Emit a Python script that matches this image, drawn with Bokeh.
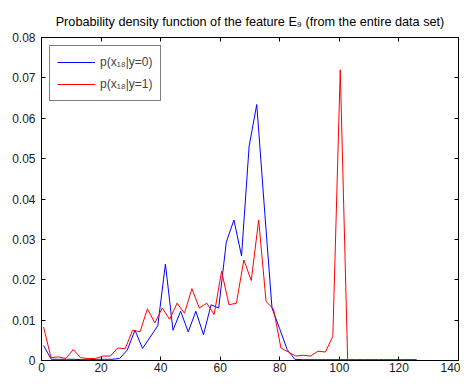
from bokeh.plotting import figure
from bokeh.models import FixedTicker, LinearAxis, Legend, LegendItem, Range1d
from bokeh.embed import file_html
from bokeh.resources import INLINE

# ---- data ----
x_blue = [0.70, 3.26, 5.81, 8.37, 10.92, 13.48, 16.04, 18.59, 21.15, 23.70,
          26.26, 28.82, 31.37, 33.93, 36.48, 39.04, 41.60, 44.15, 46.71, 49.26,
          51.82, 54.38, 56.93, 59.49, 62.04, 64.60, 67.16, 69.71, 72.27, 74.82,
          77.38, 79.94, 82.49, 85.05, 87.60, 90.16, 92.72, 95.27, 97.83, 100.38,
          102.94, 105.50, 108.05, 110.61, 113.16, 115.72, 118.28, 120.83, 123.39, 125.94]
p_blue = [0.0037, 0.0003, 0.0003, 0.0003, 0.0003, 0.0002, 0.0002, 0.0003, 0.0003, 0.0003,
          0.0005, 0.0026, 0.0075, 0.0030, 0.0058, 0.0086, 0.0239, 0.0075, 0.0122, 0.0071,
          0.0122, 0.0064, 0.0138, 0.0130, 0.0293, 0.0348, 0.0259, 0.0531, 0.0634, 0.0380,
          0.0130, 0.0079, 0.0027, 0.0003, 0.0002, 0.0002, 0.0002, 0.0002, 0.0002, 0.0002,
          0.0002, 0.0002, 0.0002, 0.0002, 0.0002, 0.0002, 0.0002, 0.0002, 0.0002, 0.0002]

x_red = [0.70, 3.19, 5.68, 8.17, 10.66, 13.15, 15.64, 18.13, 20.62, 23.11,
         25.60, 28.09, 30.58, 33.07, 35.56, 38.05, 40.54, 43.03, 45.52, 48.01,
         50.50, 52.99, 55.48, 57.97, 60.46, 62.95, 65.44, 67.93, 70.42, 72.91,
         75.40, 77.89, 80.38, 82.87, 85.36, 87.85, 90.34, 92.83, 95.32, 97.81,
         100.30, 102.79, 105.28, 107.77, 110.26, 112.75, 115.24, 117.73, 120.22, 122.71]
p_red = [0.0083, 0.0007, 0.0009, 0.0005, 0.0027, 0.0007, 0.0005, 0.0005, 0.0011, 0.0011,
         0.0031, 0.0029, 0.0075, 0.0071, 0.0128, 0.0093, 0.0130, 0.0102, 0.0142, 0.0117,
         0.0178, 0.0130, 0.0142, 0.0114, 0.0221, 0.0138, 0.0142, 0.0249, 0.0198, 0.0348,
         0.0146, 0.0128, 0.0031, 0.0021, 0.0011, 0.0013, 0.0011, 0.0023, 0.0021, 0.0060,
         0.0720, 0.0, 0.0, 0.0, 0.0, 0.0, 0.0, 0.0, 0.0, 0.0]

x_ticks = [0, 20, 40, 60, 80, 100, 120, 140]
y_ticks = [0, 0.01, 0.02, 0.03, 0.04, 0.05, 0.06, 0.07, 0.08]
y_tick_labels = ["0", "0.01", "0.02", "0.03", "0.04", "0.05", "0.06", "0.07", "0.08"]

title_text = "Probability density function of the feature E\u2089 (from the entire data set)"
legend_labels = ["p(x\u2081\u2088|y=0)", "p(x\u2081\u2088|y=1)"]
line_colors = ["#0000ff", "#ff0000"]

FONT = "Liberation Sans"

p = figure(width=460, height=374, output_backend="svg", toolbar_location=None,
           x_range=Range1d(0, 140), y_range=Range1d(0, 0.08),
           x_axis_type=None, y_axis_type=None,
           min_border_left=41, min_border_right=2, min_border_top=37, min_border_bottom=14,
           background_fill_color="white", border_fill_color="white")

p.title.text = title_text
p.title.align = "center"
p.title.text_font = FONT
p.title.text_font_style = "normal"
p.title.text_font_size = "12.7px"
p.title.text_color = "#000000"
p.title.standoff = 17

def style_axis(ax, ticks, show_labels):
    ax.ticker = FixedTicker(ticks=ticks)
    ax.major_tick_in = 4
    ax.major_tick_out = 0
    ax.minor_tick_line_color = None
    ax.major_tick_line_color = "black"
    ax.axis_line_color = "black"
    ax.major_label_text_font = FONT
    if show_labels:
        ax.major_label_text_font_size = "12px"
        ax.major_label_text_color = "#1a1a1a"
    else:
        ax.major_label_text_font_size = "0px"
        ax.major_label_text_color = None
        ax.major_label_standoff = 0

xb = LinearAxis()
style_axis(xb, x_ticks, True)
xb.major_label_standoff = 2
p.add_layout(xb, "below")

yl = LinearAxis()
style_axis(yl, y_ticks, True)
yl.major_label_standoff = 6
yl.major_label_overrides = {t: s for t, s in zip(y_ticks, y_tick_labels)}
p.add_layout(yl, "left")

xt = LinearAxis()
style_axis(xt, x_ticks, False)
p.add_layout(xt, "above")

yr = LinearAxis()
style_axis(yr, y_ticks, False)
p.add_layout(yr, "right")

p.xgrid.visible = False
p.ygrid.visible = False
p.outline_line_color = "black"
p.outline_line_alpha = 1.0

r0 = p.line(x_blue, p_blue, line_color=line_colors[0], line_width=1, line_alpha=1.0)
r1 = p.line(x_red, p_red, line_color=line_colors[1], line_width=1, line_alpha=1.0)

legend = Legend(items=[LegendItem(label=legend_labels[0], renderers=[r0]),
                       LegendItem(label=legend_labels[1], renderers=[r1])],
                location="top_left", margin=8, padding=7, spacing=4,
                glyph_width=38, glyph_height=18, label_height=18, label_standoff=5,
                border_line_color="black", border_line_width=1,
                label_text_font=FONT, label_text_font_size="12px",
                background_fill_color="white", background_fill_alpha=1.0)
p.add_layout(legend)

open("out.html", "w").write(file_html(p, INLINE))
